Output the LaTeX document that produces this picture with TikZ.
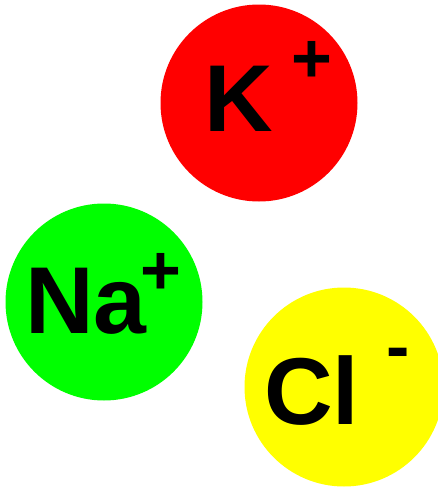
\documentclass[tikz,border=0pt]{standalone}
\usepackage{fontspec}
\setmainfont{Liberation Sans}
\usepackage{tikz}
\usetikzlibrary{positioning}

\definecolor{kred}{RGB}{255,0,0}
\definecolor{nagreen}{RGB}{0,255,0}
\definecolor{clyellow}{RGB}{255,255,0}

\begin{document}
\begin{tikzpicture}[x=1pt, y=-1pt,
    ion/.style={circle, minimum size=197pt, inner sep=0pt, draw=none},
    symb/.style={anchor=base west, inner sep=0pt,
        font=\bfseries\fontsize{95}{95}\selectfont},
    charge/.style={anchor=base west, inner sep=0pt,
        font=\bfseries\fontsize{70}{70}\selectfont}]
    \useasboundingbox (0,0) rectangle (438,488);

    % K+
    \node[ion, fill=kred] (k) at (259,103) {};
    \node[symb] (ktext) at (204,131.5) {K};
    \node[charge] (kplus) at (291,82) {+};

    % Na+
    \node[ion, fill=nagreen] (na) at (104,302) {};
    \node[symb] (natext) at (25,333) {Na};
    \node[charge] (naplus) at (140,294) {+};

    % Cl-
    \node[ion, fill=clyellow, minimum size=199pt] (cl) at (344,387) {};
    \node[symb] (cltext) at (264,424.5) {Cl};
    \node[charge] (clminus) at (386,370) {-};
\end{tikzpicture}
\end{document}
